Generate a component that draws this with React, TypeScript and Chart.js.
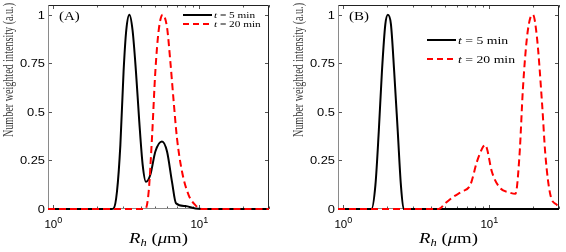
import React, { useEffect, useRef } from "react";
import { Chart, registerables } from "chart.js";
Chart.register(...registerables);

// ---- axis ranges / ticks ----
const xMin = 0.92;
const xMax = 30;
const yMin = 0;
const yMax = 1.05;
const yTickValues = [0, 0.25, 0.5, 0.75, 1];
const yTickLabels = ["0", "0.25", "0.5", "0.75", "1"];
const xMajorTicks = [1, 10];
const xMajorExp = ["0", "1"];
const xMinorTicks = [2, 3, 4, 5, 6, 7, 8, 9, 20, 30];
const yTitle = "Number weighted intensity (a.u.)";
const seriesNames = ["5 min", "20 min"];
const panelLabels = ["(A)", "(B)"];

// ---- Panel A data ----
const aBlackX = [0.92, 2.5, 2.59, 2.73, 2.88, 3.03, 3.16, 3.32, 3.49, 3.68, 3.88, 4.09, 4.31, 4.62, 5.0, 5.55, 6.01, 6.5, 6.92, 8.02, 9.4, 12, 30];
const aBlackY = [0, 0, 0.003, 0.09, 0.33, 0.71, 0.92, 1.0, 0.92, 0.71, 0.45, 0.23, 0.14, 0.176, 0.296, 0.348, 0.296, 0.14, 0.03, 0.015, 0.003, 0, 0];
const aRedX = [0.92, 4.27, 4.5, 4.74, 5.0, 5.27, 5.61, 6.01, 6.33, 6.67, 7.03, 7.61, 8.45, 9.39, 10.4, 30];
const aRedY = [0, 0, 0.09, 0.365, 0.71, 0.92, 1.0, 0.934, 0.76, 0.555, 0.365, 0.193, 0.072, 0.02, 0, 0];

// ---- Panel B data ----
const bBlackX = [0.92, 1.56, 1.66, 1.75, 1.84, 1.94, 2.02, 2.12, 2.23, 2.36, 2.48, 2.59, 30];
const bBlackY = [0, 0, 0.124, 0.4, 0.71, 0.95, 1, 0.95, 0.71, 0.4, 0.124, 0, 0];
const bRedX = [0.92, 4.5, 5.0, 5.69, 6.5, 7.41, 8.24, 9.06, 9.35, 9.64, 10.4, 11.9, 13.6, 15.1, 16.1, 17.0, 18.1, 19.1, 19.9, 21.2, 23.0, 24.2, 26.2, 29.1, 30];
const bRedY = [0, 0, 0.03, 0.064, 0.09, 0.124, 0.245, 0.32, 0.33, 0.31, 0.193, 0.107, 0.086, 0.078, 0.279, 0.624, 0.882, 0.985, 1, 0.882, 0.537, 0.279, 0.072, 0.02, 0.01];

type Run = { text: string; font: string; dy?: number };

function drawRuns(ctx: CanvasRenderingContext2D, runs: Run[], x: number, y: number, align: string, sx: number) {
  ctx.save();
  ctx.textBaseline = "alphabetic";
  ctx.textAlign = "left";
  let total = 0;
  const widths = runs.map((r) => {
    ctx.font = r.font;
    const w = ctx.measureText(r.text).width;
    total += w;
    return w;
  });
  total *= sx;
  let left = align === "right" ? x - total : align === "center" ? x - total / 2 : x;
  ctx.translate(left, y);
  ctx.scale(sx, 1);
  let cx = 0;
  runs.forEach((r, i) => {
    ctx.font = r.font;
    ctx.fillText(r.text, cx, r.dy || 0);
    cx += widths[i];
  });
  ctx.restore();
}

type PanelCfg = {
  label: string;
  legendX: number;
  legendY1: number;
  legendY2: number;
  legendFont: number;
  padRight: number;
};

function makeDecor(p: PanelCfg) {
  return {
    id: "decor",
    beforeDatasetsDraw(chart: any) {
      const { ctx, chartArea: a, scales } = chart;
      const xs = scales.x;
      const ys = scales.y;
      ctx.save();
      ctx.lineWidth = 1;
      ctx.strokeStyle = "#555";
      const allX = [...xMajorTicks.map((v) => [v, 4]), ...xMinorTicks.map((v) => [v, 2.5])];
      allX.forEach(([v, len]) => {
        const px = Math.round(xs.getPixelForValue(v)) + 0.5;
        ctx.beginPath();
        ctx.moveTo(px, a.bottom);
        ctx.lineTo(px, a.bottom - len);
        ctx.moveTo(px, a.top);
        ctx.lineTo(px, a.top + len);
        ctx.stroke();
      });
      yTickValues.forEach((v) => {
        const py = Math.round(ys.getPixelForValue(v)) + 0.5;
        ctx.beginPath();
        ctx.moveTo(a.left, py);
        ctx.lineTo(a.left + 4, py);
        ctx.moveTo(a.right, py);
        ctx.lineTo(a.right - 4, py);
        ctx.stroke();
      });
      const L = Math.round(a.left) + 0.5;
      const R = Math.round(a.right) - 0.5;
      const T = Math.round(a.top) + 0.5;
      const B = Math.round(a.bottom) - 0.5;
      ctx.strokeStyle = "#8a8a8a";
      ctx.beginPath();
      ctx.moveTo(L, T);
      ctx.lineTo(L, B);
      ctx.lineTo(R, B);
      ctx.stroke();
      ctx.strokeStyle = "#222";
      ctx.beginPath();
      ctx.moveTo(L, T);
      ctx.lineTo(R, T);
      ctx.lineTo(R, B);
      ctx.stroke();
      ctx.restore();
    },
    afterDraw(chart: any) {
      const { ctx, chartArea: a, scales } = chart;
      const xs = scales.x;
      const ys = scales.y;
      ctx.save();
      ctx.fillStyle = "#000";
      // y tick labels
      yTickValues.forEach((v, i) => {
        const py = ys.getPixelForValue(v);
        drawRuns(ctx, [{ text: yTickLabels[i], font: "11.5px 'Liberation Sans', Arial, sans-serif" }], a.left - 3, py + 4, "right", 1.12);
      });
      // x tick labels
      xMajorTicks.forEach((v, i) => {
        const px = xs.getPixelForValue(v);
        drawRuns(
          ctx,
          [
            { text: "10", font: "11.5px 'Liberation Sans', Arial, sans-serif" },
            { text: xMajorExp[i], font: "9px 'Liberation Sans', Arial, sans-serif", dy: -5 },
          ],
          px,
          a.bottom + 19,
          "center",
          1.0
        );
      });
      // x title
      drawRuns(
        ctx,
        [
          { text: "R", font: "italic 15px 'Liberation Serif', serif" },
          { text: "h", font: "italic 10px 'Liberation Serif', serif", dy: 3 },
          { text: " (", font: "15px 'Liberation Serif', serif" },
          { text: "μ", font: "italic 15px 'Liberation Serif', serif" },
          { text: "m)", font: "15px 'Liberation Serif', serif" },
        ],
        (a.left + a.right) / 2,
        a.bottom + 34,
        "center",
        1.25
      );
      // y title
      ctx.save();
      ctx.fillStyle = "#3a3a3a";
      ctx.translate(9.5, 3);
      ctx.rotate(-Math.PI / 2);
      ctx.scale(0.92, 1.3);
      ctx.font = "11px 'Liberation Serif', serif";
      ctx.textAlign = "right";
      ctx.textBaseline = "middle";
      ctx.fillText(yTitle, 0, 0);
      ctx.restore();
      // panel label
      drawRuns(ctx, [{ text: p.label, font: "13px 'Liberation Serif', serif" }], a.left + 11, a.top + 15, "left", 1.15);
      // legend
      const len = 29;
      ctx.lineWidth = 2;
      ctx.strokeStyle = "#000";
      ctx.setLineDash([]);
      ctx.beginPath();
      ctx.moveTo(p.legendX, p.legendY1);
      ctx.lineTo(p.legendX + len, p.legendY1);
      ctx.stroke();
      ctx.strokeStyle = "#ff0000";
      ctx.setLineDash([6, 4]);
      ctx.beginPath();
      ctx.moveTo(p.legendX, p.legendY2);
      ctx.lineTo(p.legendX + len, p.legendY2);
      ctx.stroke();
      ctx.setLineDash([]);
      const fs = p.legendFont;
      [p.legendY1, p.legendY2].forEach((ly, i) => {
        drawRuns(
          ctx,
          [
            { text: "t", font: `italic ${fs}px 'Liberation Serif', serif` },
            { text: " = " + seriesNames[i], font: `${fs}px 'Liberation Serif', serif` },
          ],
          p.legendX + len + 2,
          ly + fs * 0.33,
          "left",
          1.25
        );
      });
      ctx.restore();
    },
  };
}

function toPoints(xs: number[], ys: number[]) {
  return xs.map((x, i) => ({ x, y: ys[i] }));
}

function Panel(props: {
  left: number;
  width: number;
  cfg: PanelCfg;
  blackX: number[];
  blackY: number[];
  redX: number[];
  redY: number[];
}) {
  const ref = useRef<HTMLCanvasElement | null>(null);
  useEffect(() => {
    if (!ref.current) return;
    const chart = new Chart(ref.current, {
      type: "line",
      data: {
        datasets: [
          {
            label: "t = " + seriesNames[1],
            data: toPoints(props.redX, props.redY),
            borderColor: "#ff0000",
            borderWidth: 2,
            borderDash: [7, 4],
            pointRadius: 0,
            cubicInterpolationMode: "monotone",
            fill: false,
            clip: false,
            order: 0,
          } as any,
          {
            label: "t = " + seriesNames[0],
            data: toPoints(props.blackX, props.blackY),
            borderColor: "#000000",
            borderWidth: 2,
            pointRadius: 0,
            cubicInterpolationMode: "monotone",
            fill: false,
            clip: false,
            order: 1,
          } as any,
        ],
      },
      options: {
        animation: false,
        responsive: false,
        devicePixelRatio: 1,
        layout: { padding: { top: 5, bottom: 43, left: 48, right: props.cfg.padRight } },
        plugins: { legend: { display: false }, tooltip: { enabled: false } },
        scales: {
          x: { type: "logarithmic", min: xMin, max: xMax, display: false },
          y: { type: "linear", min: yMin, max: yMax, display: false },
        },
      },
      plugins: [makeDecor(props.cfg)],
    });
    return () => chart.destroy();
  }, []);
  return (
    <canvas
      ref={ref}
      width={props.width}
      height={252}
      style={{ position: "absolute", left: props.left, top: 0, width: props.width, height: 252 }}
    />
  );
}

export default function App() {
  return (
    <div style={{ position: "fixed", left: 0, top: 0, width: 566, height: 252, background: "#fff" }}>
      <Panel
        left={0}
        width={290}
        cfg={{ label: panelLabels[0], legendX: 183, legendY1: 15, legendY2: 24, legendFont: 9, padRight: 21 }}
        blackX={aBlackX}
        blackY={aBlackY}
        redX={aRedX}
        redY={aRedY}
      />
      <Panel
        left={290}
        width={276}
        cfg={{ label: panelLabels[1], legendX: 137, legendY1: 40, legendY2: 59, legendFont: 11, padRight: 7 }}
        blackX={bBlackX}
        blackY={bBlackY}
        redX={bRedX}
        redY={bRedY}
      />
    </div>
  );
}
